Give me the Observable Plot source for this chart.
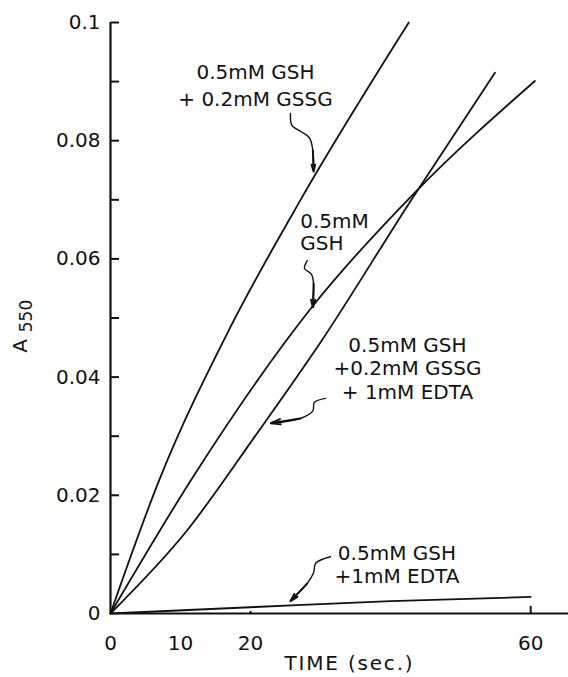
<!DOCTYPE html>
<html>
<head>
<meta charset="utf-8">
<script src="https://cdn.jsdelivr.net/npm/d3@7"></script>
<script src="https://cdn.jsdelivr.net/npm/@observablehq/plot@0.6"></script>
<style>
  body { margin: 0; background: #fff; }
  #chart svg { display: block; }
</style>
</head>
<body>
<div id="chart"></div>
<script>
// ---- Data ----
const seriesNames = ["GSH+GSSG", "GSH", "GSH+GSSG+EDTA", "GSH+EDTA"];

const gssgTime = [0, 6.9, 17.1, 27.1, 42.6];
const gssgA550 = [0, 0.0224, 0.0484, 0.0699, 0.1];

const gshTime = [0, 12.1, 28.8, 43.6, 60.6];
const gshA550 = [0, 0.0237, 0.0519, 0.0714, 0.0901];

const gssgEdtaTime = [0, 10.7, 20.7, 30, 42.9, 54.9];
const gssgEdtaA550 = [0, 0.0137, 0.0301, 0.0459, 0.0699, 0.0915];

const edtaTime = [0, 20.7, 40, 60];
const edtaA550 = [0, 0.0011, 0.0021, 0.0028];

// axis ticks
const yLabelTicks = [0, 0.02, 0.04, 0.06, 0.08, 0.1];
const yLabelText = ["0", "0.02", "0.04", "0.06", "0.08", "0.1"];
const yMinorTicks = [0.01, 0.02, 0.03, 0.04, 0.05, 0.06, 0.07, 0.08, 0.09, 0.1];
const xLabelTicks = [0, 10, 20, 60];
const xLabelText = ["0", "10", "20", "60"];
const xMajorTick = [60];
const xMinorTick = [20];
const xTitle = "TIME (sec.)";
const yTitleMain = "A";
const yTitleSub = "550";

// curve annotations
const annoText = [
  "0.5mM GSH\n+ 0.2mM GSSG",
  "0.5mM\nGSH",
  "0.5mM GSH\n+0.2mM GSSG\n+ 1mM EDTA",
  "0.5mM GSH\n+1mM EDTA"
];
const annoTime = [20.7, 27.1, 42.4, 40.9];
const annoA550 = [0.0896, 0.0646, 0.0416, 0.0084];

// squiggly pointer arrows (time, A550)
const arrowPaths = [
  [[25.7, 0.0846], [25.9, 0.0826], [27.1, 0.0816], [28.4, 0.0805], [28.9, 0.0783], [29.0, 0.0748]],
  [[28.1, 0.0597], [27.7, 0.0584], [28.7, 0.0574], [29.0, 0.0558], [28.9, 0.0518]],
  [[30.7, 0.0364], [29.1, 0.0357], [28.9, 0.0343], [27.1, 0.0330], [22.9, 0.0322]],
  [[31.4, 0.0096], [29.3, 0.0085], [29.0, 0.0069], [28.1, 0.0051], [25.7, 0.0021]]
];

// ---- build tables ----
const rows = [];
[[gssgTime, gssgA550], [gshTime, gshA550], [gssgEdtaTime, gssgEdtaA550], [edtaTime, edtaA550]]
  .forEach(([ts, vs], k) => ts.forEach((t, i) => rows.push({series: seriesNames[k], t, a: vs[i]})));

const annoRows = annoText.map((text, i) => ({text, t: annoTime[i], a: annoA550[i]}));
const annoStyle = [
  {textAnchor: "middle", lineHeight: 1.35},
  {textAnchor: "start", lineHeight: 1.1},
  {textAnchor: "middle", lineHeight: 1.18},
  {textAnchor: "middle", lineHeight: 1.15}
];

const squiggleRows = [];
arrowPaths.forEach((p, k) => p.forEach(([t, a]) => squiggleRows.push({k, t, a})));
const headRows = arrowPaths.map((p, k) => {
  const n = p.length;
  return {k, t1: p[n - 2][0], a1: p[n - 2][1], t2: p[n - 1][0], a2: p[n - 1][1]};
});

const ink = "#111";
const fmtY = d => yLabelText[yLabelTicks.indexOf(d)];
const fmtX = d => xLabelText[xLabelTicks.indexOf(d)];
const W = 568, H = 677, ML = 110, MR = 0, MT = 22, MB = 64;

const chart = Plot.plot({
  width: W,
  height: H,
  marginLeft: ML,
  marginRight: MR,
  marginTop: MT,
  marginBottom: MB,
  style: {fontFamily: "'DejaVu Sans', sans-serif", fontSize: "20px", color: ink, background: "#fff", overflow: "visible"},
  x: {domain: [0, 65.4], label: null, axis: null},
  y: {domain: [0, 0.1], label: null, axis: null},
  marks: [
    // tick labels
    Plot.axisY({ticks: yLabelTicks, tickSize: 0, tickPadding: 10, tickFormat: fmtY, label: null, fontSize: 20}),
    Plot.axisX({ticks: xLabelTicks, tickSize: 0, tickPadding: 22, tickFormat: fmtX, label: null, fontSize: 20}),
    // inward tick marks (drawn by right/top axes shifted onto the left/bottom frame edges)
    Plot.axisY({anchor: "right", dx: -(W - ML - MR), ticks: yMinorTicks, tickSize: 8, tickPadding: 0, tickFormat: () => "", label: null, strokeWidth: 2}),
    Plot.axisX({anchor: "top", dy: (H - MB - MT), ticks: xMajorTick, tickSize: 8, tickPadding: 0, tickFormat: () => "", label: null, strokeWidth: 2}),
    Plot.axisX({anchor: "top", dy: (H - MB - MT), ticks: xMinorTick, tickSize: 3, tickPadding: 0, tickFormat: () => "", label: null, strokeWidth: 2}),
    // axis lines
    Plot.ruleX([0], {stroke: ink, strokeWidth: 2.2}),
    Plot.ruleY([0], {stroke: ink, strokeWidth: 2.2}),
    // data curves
    Plot.line(rows, {x: "t", y: "a", z: "series", curve: "monotone-x", stroke: ink, strokeWidth: 1.8}),
    // pointer arrows
    Plot.line(squiggleRows, {x: "t", y: "a", z: "k", curve: "catmull-rom", stroke: ink, strokeWidth: 1.4}),
    Plot.arrow(headRows, {x1: "t1", y1: "a1", x2: "t2", y2: "a2", stroke: ink, strokeWidth: 2, headLength: 11, headAngle: 30}),
    // annotations
    ...annoRows.map((r, i) => Plot.text([r], {
      x: "t", y: "a", text: "text",
      textAnchor: annoStyle[i].textAnchor, lineAnchor: "middle",
      lineHeight: annoStyle[i].lineHeight, fontSize: 20, fill: ink
    })),
    // axis titles
    Plot.text([xTitle], {frameAnchor: "bottom", textAnchor: "middle", lineAnchor: "middle", dx: 10, dy: 50, fontSize: 20, fill: ink}),
    Plot.text([yTitleMain], {frameAnchor: "left", textAnchor: "middle", lineAnchor: "middle", dx: -90, dy: 28, rotate: -90, fontSize: 20, fill: ink}),
    Plot.text([yTitleSub], {frameAnchor: "left", textAnchor: "middle", lineAnchor: "middle", dx: -84, dy: -2, rotate: -90, fontSize: 17, fill: ink})
  ]
});

// the reference sets the x-axis title with wide letter spacing
d3.select(chart).selectAll("text")
  .filter(function () { return this.textContent === xTitle; })
  .attr("letter-spacing", "1.8px");

document.getElementById("chart").appendChild(chart);
</script>
</body>
</html>
